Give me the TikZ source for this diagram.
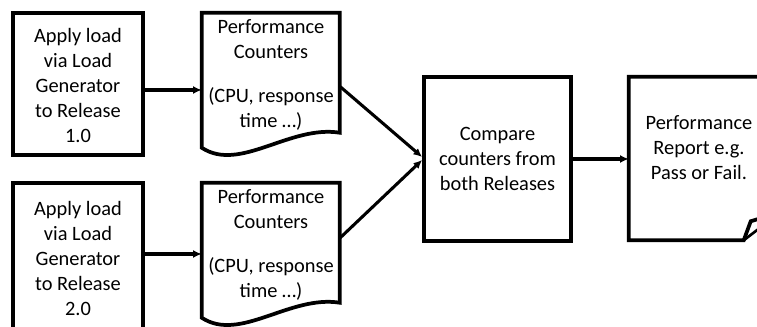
\documentclass[tikz,border=0pt]{standalone}
\usepackage{fontspec}
\setmainfont{Carlito}
\usetikzlibrary{arrows.meta,calc}
\begin{document}
\begin{tikzpicture}[x=0.75pt,y=-0.75pt,
  boxshape/.style={draw,line width=2.8pt,rectangle,inner sep=0pt},
  ghost/.style={rectangle,inner sep=0pt,draw=none},
  outline/.style={line width=2.8pt,line join=miter},
  lbl/.style={align=center,inner sep=0pt,font=\fontsize{15.3}{18.75}\selectfont},
  arr/.style={line width=2.3pt,-{Latex[length=6.5pt,width=6pt]}}]
\useasboundingbox (0,0) rectangle (757,327);
\fill[white] (0,0) rectangle (757,327);
\clip (0,0) rectangle (757,327);
% load boxes
\node[boxshape,minimum width=97.5pt,minimum height=106.5pt] (box1) at (78,84) {};
\node[lbl] (t1) at (78,86) {Apply load\\via Load\\Generator\\to Release\\1.0};
\node[boxshape,minimum width=97.5pt,minimum height=114pt] (box2) at (78,259) {};
\node[lbl] (t2) at (78,258.5) {Apply load\\via Load\\Generator\\to Release\\2.0};
% document shapes
\node[ghost,minimum width=103.5pt,minimum height=115.5pt] (doc1) at (271,90) {};
\node[ghost,minimum width=103.5pt,minimum height=115.5pt] (doc2) at (271,260) {};
\foreach \d in {doc1,doc2}{
  \draw[outline] ($(\d.north west)+(0,135)$) -- (\d.north west) -- ($(\d.north west)+(138,0)$)
     -- ($(\d.north west)+(138,120)$)
     .. controls ($(\d.north west)+(88,112)$) and ($(\d.north west)+(38,160)$) .. cycle;
}
\node[lbl] (td1) at (271,75) {Performance\\Counters\\[14.25pt](CPU, response\\time …)};
\node[lbl] (td2) at (271,245) {Performance\\Counters\\[14.25pt](CPU, response\\time …)};
% compare box
\node[boxshape,minimum width=110.25pt,minimum height=123pt] (cmp) at (497.5,159) {};
\node[lbl] (tc) at (497.5,159) {Compare\\counters from\\both Releases};
% report
\node[ghost,minimum width=105pt,minimum height=122.25pt] (rep) at (699,158.5) {};
\draw[outline] ($(rep.north west)+(160,0)$) -- (rep.north west) -- (rep.south west)
   -- ($(rep.south west)+(115,0)$) -- ($(rep.south west)+(122,-19)$) -- ($(rep.south west)+(132,-22)$);
\draw[line width=2pt] ($(rep.south west)+(115,0)$) -- ($(rep.south west)+(132,-13)$);
\node[lbl] (tr) at ($(rep.center)+(0,-10.5)$) {Performance\\Report e.g.\\Pass or Fail.};
% connectors
\draw[arr] (box1.east |- doc1.west) -- (doc1.west);
\coordinate (a2) at ([yshift=3.75pt]box2.east);
\draw[arr] (a2) -- (a2 -| doc2.west);
\coordinate (d1) at ($(doc1.north east)+(0,74)$);
\coordinate (d2) at ($(doc2.north east)+(0,55)$);
\draw[arr] (d1) -- ([yshift=1.5pt]cmp.west);
\draw[arr] (d2) -- ([yshift=-0.75pt]cmp.west);
\draw[arr] (cmp.east) -- (cmp.east -| rep.west);
\end{tikzpicture}
\end{document}
